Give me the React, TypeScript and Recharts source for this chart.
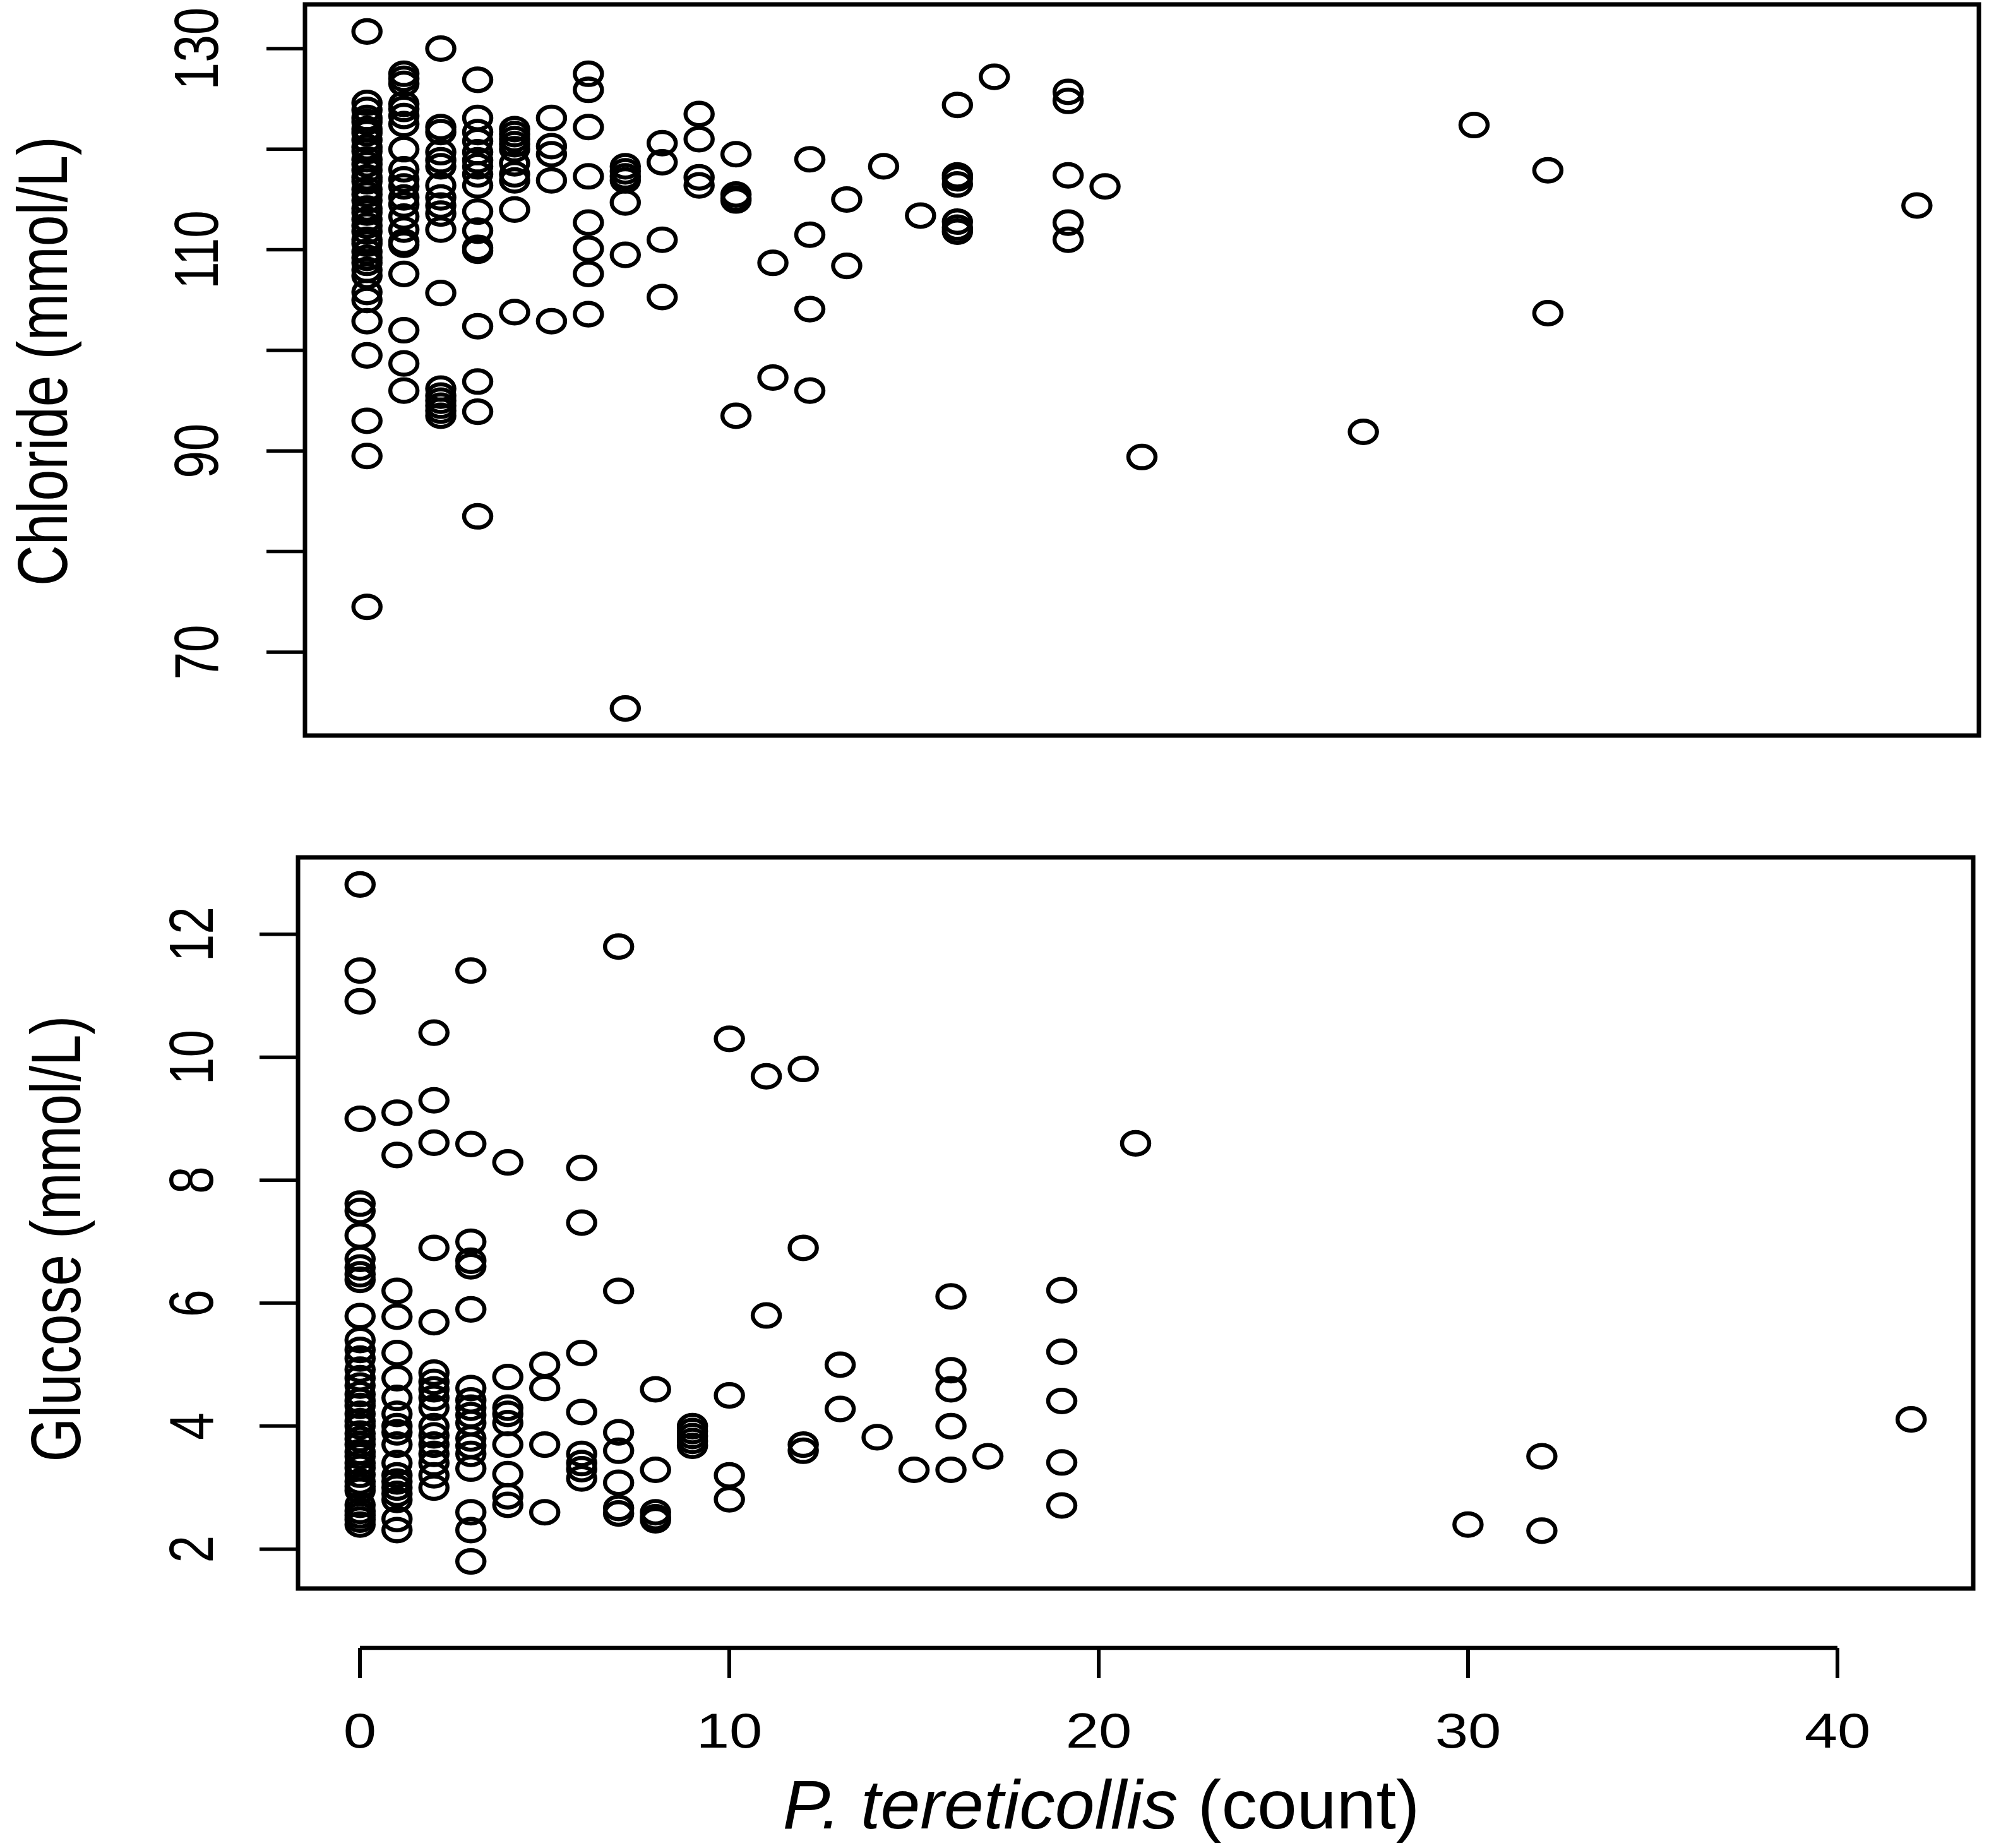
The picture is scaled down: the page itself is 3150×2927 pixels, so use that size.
import React from 'react';
import { ScatterChart, Scatter, XAxis, YAxis, ReferenceArea } from 'recharts';

// ---------------- data ----------------
// [count, values at that count]
const CHLORIDE_BY_COUNT: [number, number[]][] = [
  [0, [131.7, 124.6, 123.9, 123.1, 122.7, 122.0, 121.6, 120.9, 120.2, 119.8, 119.0, 118.5, 117.9, 117.2, 116.8, 116.0, 115.5, 114.9, 114.1, 113.7, 113.0, 112.4, 111.8, 111.0, 110.6, 109.8, 109.2, 108.7, 108.0, 107.4, 105.8, 105.0, 102.9, 99.5, 93.0, 89.5, 74.5]],
  [1, [127.5, 127.0, 126.5, 124.5, 124.0, 123.3, 122.5, 120.0, 118.0, 117.0, 116.3, 115.2, 114.5, 113.3, 112.0, 110.8, 110.5, 107.6, 102.0, 98.7, 96.0]],
  [2, [130.0, 122.2, 121.7, 119.7, 118.9, 118.3, 116.4, 115.2, 114.4, 113.6, 112.0, 105.7, 96.2, 95.5, 95.0, 94.5, 94.0, 93.5]],
  [3, [126.9, 123.1, 121.7, 120.8, 119.7, 118.9, 118.3, 117.5, 116.4, 113.8, 111.9, 110.2, 109.9, 102.4, 96.9, 93.9, 83.5]],
  [4, [122.0, 121.5, 121.0, 120.5, 120.0, 118.6, 117.5, 116.9, 114.0, 103.8]],
  [5, [123.1, 120.3, 119.5, 116.9, 102.9]],
  [6, [127.5, 125.9, 122.2, 117.3, 112.7, 110.1, 107.6, 103.6]],
  [7, [118.3, 117.8, 117.3, 116.9, 114.7, 109.5, 64.4]],
  [8, [120.6, 118.7, 111.0, 105.3]],
  [9, [123.5, 121.0, 117.2, 116.4]],
  [10, [119.5, 115.5, 115.1, 114.9, 93.5]],
  [11, [108.7, 97.3]],
  [12, [119.0, 111.5, 104.1, 96.0]],
  [13, [115.0, 108.4]],
  [14, [118.3]],
  [15, [113.4]],
  [16, [124.4, 117.4, 117.1, 116.5, 112.8, 112.2, 111.8]],
  [17, [127.2]],
  [19, [125.7, 124.8, 117.4, 112.7, 111.0]],
  [20, [116.3]],
  [21, [89.4]],
  [27, [91.9]],
  [30, [122.4]],
  [32, [117.9, 103.7]],
  [42, [114.4]],
];

const GLUCOSE_BY_COUNT: [number, number[]][] = [
  [0, [12.81, 11.41, 10.91, 9.0, 7.62, 7.5, 7.1, 6.72, 6.58, 6.47, 6.38, 5.79, 5.4, 5.24, 5.1, 4.92, 4.78, 4.66, 4.52, 4.41, 4.33, 4.2, 4.08, 4.0, 3.88, 3.79, 3.7, 3.58, 3.51, 3.4, 3.32, 3.21, 3.1, 3.02, 2.95, 2.72, 2.62, 2.55, 2.48, 2.4]],
  [1, [9.1, 8.41, 6.2, 5.78, 5.19, 4.78, 4.46, 4.2, 4.0, 3.9, 3.7, 3.4, 3.2, 3.1, 3.0, 2.9, 2.8, 2.49, 2.31]],
  [2, [10.4, 9.3, 8.61, 6.9, 5.69, 4.87, 4.72, 4.6, 4.46, 4.3, 4.0, 3.85, 3.7, 3.55, 3.4, 3.2, 3.0]],
  [3, [11.41, 8.59, 7.0, 6.69, 6.6, 5.9, 4.62, 4.42, 4.3, 4.18, 4.05, 3.8, 3.68, 3.55, 3.31, 2.6, 2.31, 1.8]],
  [4, [8.29, 4.8, 4.3, 4.2, 4.05, 3.7, 3.22, 2.86, 2.72]],
  [5, [5.0, 4.62, 3.7, 2.6]],
  [6, [8.2, 7.31, 5.19, 4.23, 3.55, 3.4, 3.3, 3.15]],
  [7, [11.8, 6.2, 3.9, 3.6, 3.08, 2.67, 2.58]],
  [8, [4.6, 3.29, 2.6, 2.52, 2.47]],
  [9, [4.0, 3.92, 3.84, 3.76, 3.68]],
  [10, [10.3, 4.5, 3.2, 2.81]],
  [11, [9.69, 5.8]],
  [12, [9.81, 6.9, 3.7, 3.6]],
  [13, [5.0, 4.28]],
  [14, [3.82]],
  [15, [3.29]],
  [16, [6.11, 4.91, 4.6, 4.0, 3.29]],
  [17, [3.51]],
  [19, [6.21, 5.21, 4.41, 3.41, 2.71]],
  [21, [8.6]],
  [30, [2.4]],
  [32, [3.51, 2.3]],
  [42, [4.11]],
];

const CHLORIDE_TICKS = [70, 80, 90, 100, 110, 120, 130];
const CHLORIDE_TICK_LABELS = [70, 90, 110, 130];
const GLUCOSE_TICKS = [2, 4, 6, 8, 10, 12];
const COUNT_TICKS = [0, 10, 20, 30, 40];

const CHLORIDE_TITLE = 'Chloride (mmol/L)';
const GLUCOSE_TITLE = 'Glucose (mmol/L)';
const X_TITLE_ITALIC = 'P. tereticollis';
const X_TITLE_REST = ' (count)';

// ---------------- helpers ----------------
const FONT = '"Liberation Sans", Arial, Helvetica, sans-serif';
const INK = '#000000';
const SQ_TICK = 0.8;
const SQ_YTITLE = 0.8;
const SQ_XTITLE = 0.96;

type Pt = { x: number; y: number };
const flatten = (groups: [number, number[]][]): Pt[] =>
  groups.flatMap(([c, vals]) => vals.map((v) => ({ x: c, y: v })));

const CHLORIDE_DATA = flatten(CHLORIDE_BY_COUNT);
const GLUCOSE_DATA = flatten(GLUCOSE_BY_COUNT);

// R-style 4% axis extension
const rDomain = (vals: number[]): [number, number] => {
  const lo = Math.min(...vals);
  const hi = Math.max(...vals);
  const pad = (hi - lo) * 0.04;
  return [lo - pad, hi + pad];
};

const X_DOMAIN = rDomain([...CHLORIDE_DATA, ...GLUCOSE_DATA].map((d) => d.x));
const CHLORIDE_DOMAIN = rDomain(CHLORIDE_DATA.map((d) => d.y));
const GLUCOSE_DOMAIN = rDomain(GLUCOSE_DATA.map((d) => d.y));

const Ring = (props: any) => {
  const { cx, cy } = props;
  if (cx == null || cy == null || isNaN(cx) || isNaN(cy)) return <g />;
  return <ellipse cx={cx} cy={cy} rx={21.5} ry={17.8} fill="none" stroke={INK} strokeWidth={6.5} />;
};

const makeYTick = (shown: number[] | null) => (props: any) => {
  const { x, y, payload } = props;
  if (shown && !shown.includes(payload.value)) return <g />;
  return (
    <text
      transform={`translate(${x},${y}) rotate(-90) scale(${SQ_TICK},1)`}
      x={0}
      y={0}
      textAnchor="middle"
      fontSize={98}
      fontFamily={FONT}
      fill={INK}
    >
      {payload.value}
    </text>
  );
};

const XTick = (props: any) => {
  const { x, y, payload } = props;
  return (
    <text
      transform={`translate(${x},${y + 110}) scale(0.96,${SQ_TICK})`}
      x={0}
      y={0}
      textAnchor="middle"
      fontSize={98}
      fontFamily={FONT}
      fill={INK}
    >
      {payload.value}
    </text>
  );
};

const YTitle = (props: any) => {
  const { text, baselineX, centerY } = props;
  return (
    <text
      transform={`translate(${baselineX},${centerY}) rotate(-90) scale(${SQ_YTITLE},1)`}
      x={0}
      y={0}
      textAnchor="middle"
      fontSize={112}
      fontFamily={FONT}
      fill={INK}
    >
      {text}
    </text>
  );
};

const XTitle = (props: any) => {
  const vb = props.viewBox || { x: 0, y: 0, width: 0, height: 0 };
  const cx = vb.x + vb.width / 2 + 4;
  const by = vb.y + 286;
  return (
    <text
      transform={`translate(${cx},${by}) scale(1,${SQ_XTITLE})`}
      x={0}
      y={0}
      textAnchor="middle"
      fontSize={113}
      fontFamily={FONT}
      fill={INK}
    >
      <tspan fontStyle="italic">{X_TITLE_ITALIC}</tspan>
      <tspan>{X_TITLE_REST}</tspan>
    </text>
  );
};

export default function App() {
  return (
    <div
      style={{
        position: 'absolute',
        left: 0,
        top: 0,
        width: 3150,
        height: 2927,
        background: '#ffffff',
        overflow: 'hidden',
      }}
    >
      {/* Chloride panel */}
      <div style={{ position: 'absolute', left: 0, top: 0 }}>
        <ScatterChart width={3150} height={1250} margin={{ top: 7, right: 16, bottom: 85, left: 0 }}>
          <XAxis type="number" dataKey="x" domain={X_DOMAIN} hide allowDataOverflow />
          <YAxis
            type="number"
            dataKey="y"
            domain={CHLORIDE_DOMAIN}
            allowDataOverflow
            ticks={CHLORIDE_TICKS}
            interval={0}
            width={483}
            tickSize={61}
            tickMargin={77}
            axisLine={false}
            tickLine={{ stroke: INK, strokeWidth: 5.5 }}
            tick={makeYTick(CHLORIDE_TICK_LABELS)}
            label={<YTitle text={CHLORIDE_TITLE} baselineX={106} centerY={572} />}
          />
          <Scatter data={CHLORIDE_DATA} shape={Ring} isAnimationActive={false} />
          <ReferenceArea
            x1={X_DOMAIN[0]}
            x2={X_DOMAIN[1]}
            y1={CHLORIDE_DOMAIN[0]}
            y2={CHLORIDE_DOMAIN[1]}
            fill="none"
            fillOpacity={0}
            stroke={INK}
            strokeWidth={7}
            ifOverflow="visible"
          />
        </ScatterChart>
      </div>

      {/* Glucose panel */}
      <div style={{ position: 'absolute', left: 0, top: 1250 }}>
        <ScatterChart width={3150} height={1300} margin={{ top: 108, right: 25, bottom: 34, left: 0 }}>
          <XAxis type="number" dataKey="x" domain={X_DOMAIN} hide allowDataOverflow />
          <YAxis
            type="number"
            dataKey="y"
            domain={GLUCOSE_DOMAIN}
            allowDataOverflow
            ticks={GLUCOSE_TICKS}
            interval={0}
            width={472}
            tickSize={61}
            tickMargin={74}
            axisLine={false}
            tickLine={{ stroke: INK, strokeWidth: 5.5 }}
            tick={makeYTick(null)}
            label={<YTitle text={GLUCOSE_TITLE} baselineX={127} centerY={712} />}
          />
          <Scatter data={GLUCOSE_DATA} shape={Ring} isAnimationActive={false} />
          <ReferenceArea
            x1={X_DOMAIN[0]}
            x2={X_DOMAIN[1]}
            y1={GLUCOSE_DOMAIN[0]}
            y2={GLUCOSE_DOMAIN[1]}
            fill="none"
            fillOpacity={0}
            stroke={INK}
            strokeWidth={7}
            ifOverflow="visible"
          />
        </ScatterChart>
      </div>

      {/* shared count axis (drawn over 0..40 only, as in the original) */}
      <div style={{ position: 'absolute', left: 0, top: 2516 }}>
        <ScatterChart width={3150} height={411} margin={{ top: 0, right: 240, bottom: 0, left: 570 }}>
          <XAxis
            type="number"
            dataKey="x"
            domain={[COUNT_TICKS[0], COUNT_TICKS[COUNT_TICKS.length - 1]]}
            allowDataOverflow
            ticks={COUNT_TICKS}
            interval={0}
            height={317}
            tickSize={48}
            tickMargin={0}
            axisLine={{ stroke: INK, strokeWidth: 6.5 }}
            tickLine={{ stroke: INK, strokeWidth: 6 }}
            tick={XTick}
            label={<XTitle />}
          />
          <YAxis type="number" dataKey="y" domain={[0, 1]} hide allowDataOverflow />
        </ScatterChart>
      </div>
    </div>
  );
}
